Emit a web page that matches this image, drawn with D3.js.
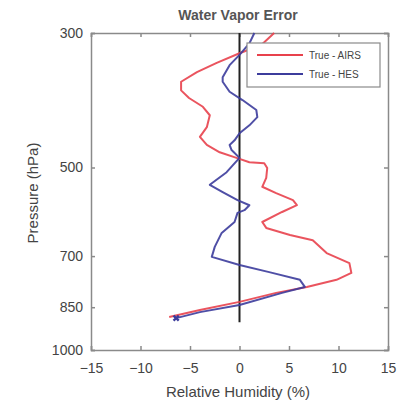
<!DOCTYPE html>
<html>
<head>
<meta charset="utf-8">
<script src="https://cdn.jsdelivr.net/npm/d3@7"></script>
<style>
  body { margin: 0; background: #fff; }
  text { font-family: "Liberation Sans", Arial, sans-serif; fill: #333; }
</style>
</head>
<body>
<div id="chart"></div>
<script>
// values (RH error %, pressure hPa)
const airsErr = [3.5, 2.2, 0, -2.3, -4.3, -5.9, -5.9, -5.1, -3.7, -3.0, -3.3, -4.0, -3.3, -2.0, -0.3, 1.0, 2.5, 2.8, 2.7, 2.3, 3.7, 5.4, 5.8, 4.3, 2.3, 2.7, 5.1, 7.4, 8.8, 11.1, 11.3, 9.8, 6.8, 3.7, 0, -4.0, -7.1];
const airsP = [300, 314, 324, 336, 348, 361, 373, 384, 397, 410, 429, 445, 459, 472, 482, 490, 492, 501, 520, 538, 551, 566, 577, 592, 615, 629, 646, 659, 692, 719, 746, 766, 787, 805, 833, 859, 882];
const hesErr = [1.5, 1.0, 0, -1.0, -1.7, -1.7, -1.0, 0.3, 1.7, 1.8, 1.0, 0, -0.5, -1.0, -0.8, 0, -1.3, -3.0, -1.7, -0.2, 1.0, 0.5, -0.2, -0.5, -1.8, -2.5, -2.8, 0, 3.0, 6.1, 6.6, 4.3, 0, -4.0, -6.4];
const hesP = [300, 312, 326, 339, 355, 361, 375, 387, 402, 413, 426, 439, 451, 459, 468, 482, 509, 534, 549, 566, 577, 588, 594, 615, 641, 676, 702, 724, 744, 766, 787, 805, 843, 866, 886];
const xTicks = [-15, -10, -5, 0, 5, 10, 15];
const yTicks = [300, 500, 700, 850, 1000];
const zeroLine = [300, 900];
const seriesNames = ["True - AIRS", "True - HES"];
const seriesColors = ["#e8414c", "#3c3c9c"];

const W = 401, H = 404;
const margin = {left: 91, right: 13, top: 33, bottom: 54};

const svg = d3.select("#chart").append("svg")
  .attr("width", W).attr("height", H);

const x = d3.scaleLinear().domain([-15, 15]).range([margin.left, W - margin.right]);
const y = d3.scaleLog().domain([300, 1000]).range([margin.top, H - margin.bottom]);

// axes, matlab style: ticks pointing inward on all four sides
svg.append("g")
  .attr("transform", "translate(0," + (H - margin.bottom) + ")")
  .call(d3.axisBottom(x).tickValues(xTicks).tickSize(-4).tickPadding(13)
    .tickFormat(d => d < 0 ? "\u2212" + Math.abs(d) : d));
svg.append("g")
  .attr("transform", "translate(0," + margin.top + ")")
  .call(d3.axisTop(x).tickValues(xTicks).tickSize(-4).tickFormat(""));
svg.append("g")
  .attr("transform", "translate(" + margin.left + ",0)")
  .call(d3.axisLeft(y).tickValues(yTicks).tickSize(-4).tickPadding(8).tickFormat(d3.format("d")));
svg.append("g")
  .attr("transform", "translate(" + (W - margin.right) + ",0)")
  .call(d3.axisRight(y).tickValues(yTicks).tickSize(-4).tickFormat(""));

svg.selectAll(".domain, .tick line").attr("stroke", "#8a8a8a").attr("stroke-width", 1.5);
svg.selectAll(".tick text").style("font-size", "14px").style("fill", "#444");

// zero line
svg.append("line")
  .attr("x1", x(0)).attr("x2", x(0))
  .attr("y1", y(zeroLine[0])).attr("y2", y(zeroLine[1]))
  .attr("stroke", "#222").attr("stroke-width", 2);

const line = d3.line().x(d => x(d[0])).y(d => y(d[1]));

const series = [d3.zip(airsErr, airsP), d3.zip(hesErr, hesP)];
series.forEach(function (s, i) {
  svg.append("path")
    .datum(s)
    .attr("d", line)
    .attr("fill", "none")
    .attr("stroke", seriesColors[i])
    .attr("stroke-width", 2)
    .attr("stroke-linejoin", "round")
    .attr("opacity", 0.9);
});

// end marker on the blue curve
const last = series[1][series[1].length - 1];
svg.append("path")
  .attr("d", d3.symbol(d3.symbolCross, 30)())
  .attr("transform", "translate(" + x(last[0]) + "," + y(last[1]) + ") rotate(45)")
  .attr("fill", seriesColors[1]);

// legend
const leg = svg.append("g").attr("transform", "translate(247,43)");
leg.append("rect").attr("width", 133).attr("height", 44)
  .attr("fill", "#fff").attr("stroke", "#8a8a8a").attr("stroke-width", 1.2);
seriesNames.forEach(function (n, i) {
  const ly = 12 + i * 19;
  leg.append("line").attr("x1", 10).attr("x2", 56).attr("y1", ly).attr("y2", ly)
    .attr("stroke", seriesColors[i]).attr("stroke-width", 2);
  leg.append("text").attr("x", 62).attr("y", ly + 3.5).text(n)
    .style("font-size", "10px").style("fill", "#444");
});

// title and labels
svg.append("text").attr("x", 238).attr("y", 20).attr("text-anchor", "middle")
  .style("font-size", "14px").style("font-weight", "bold").style("fill", "#555")
  .text("Water Vapor Error");
svg.append("text").attr("x", 238).attr("y", 397).attr("text-anchor", "middle")
  .style("font-size", "15px").style("fill", "#444")
  .text("Relative Humidity (%)");
svg.append("text").attr("transform", "translate(38,193) rotate(-90)")
  .attr("text-anchor", "middle")
  .style("font-size", "15px").style("fill", "#444")
  .text("Pressure (hPa)");
</script>
</body>
</html>
